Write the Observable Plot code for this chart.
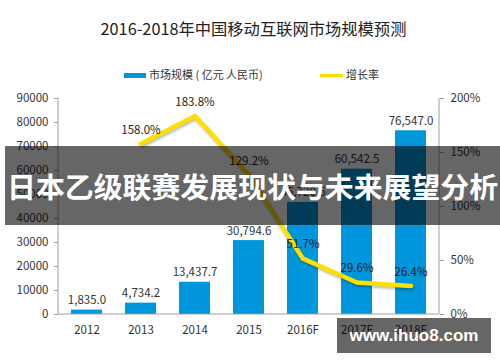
<!DOCTYPE html>
<html><head><meta charset="utf-8">
<script src="https://cdn.jsdelivr.net/npm/d3@7"></script>
<script src="https://cdn.jsdelivr.net/npm/@observablehq/plot@0.6"></script>
<style>
html,body{margin:0;padding:0;background:#fff;}
#wrap{position:relative;width:500px;height:362px;overflow:hidden;font-family:"Noto Sans CJK SC",sans-serif;}
#chart{position:absolute;left:0;top:0;}
#title{position:absolute;left:0;width:507px;top:17px;text-align:center;font-size:16.3px;color:#222;line-height:22px;white-space:nowrap;}
.leg{position:absolute;top:66px;font-size:11px;color:#333;line-height:16px;white-space:nowrap;}
.sw{display:inline-block;vertical-align:middle;margin-right:3px;position:relative;top:-1px;}
#banner{position:absolute;left:5px;top:146px;width:495px;height:79px;background:rgba(0,0,0,0.6);display:flex;align-items:center;}
#btext{margin-left:2px;font-size:28.9px;font-weight:bold;color:#fff;white-space:nowrap;line-height:1;}
#wm{position:absolute;left:337px;top:318px;width:154px;height:35px;background:rgba(0,0,0,0.6);color:#fff;font-family:"Liberation Sans",Arial,sans-serif;font-weight:bold;font-size:17px;display:flex;align-items:center;justify-content:center;}
g[stroke="#ffdf00"]{filter:drop-shadow(1px 2px 1px rgba(0,0,0,0.25));}
</style>
</head><body>
<div id="wrap">
  <div id="chart"></div>
  <div id="title">2016-2018年中国移动互联网市场规模预测</div>
  <div class="leg" style="left:124px"><span class="sw" style="width:22px;height:5px;background:#0096db"></span>市场规模 ( 亿元 人民币)</div>
  <div class="leg" style="left:320px"><span class="sw" style="width:23px;height:3px;background:#ffdf00"></span>增长率</div>
  <div id="banner"><span id="btext">日本乙级联赛发展现状与未来展望分析</span></div>
  <div id="wm">www.ihuo8.com</div>
</div>
<script>
const years = ["2012","2013","2014","2015","2016F","2017F","2018F"];
const marketSize = [1835.0, 4734.2, 13437.7, 30794.6, 46720.6, 60542.5, 76547.0];
const growthYears = ["2013","2014","2015","2016F","2017F","2018F"];
const growthRate = [158.0, 183.8, 129.2, 51.7, 29.6, 26.4];
const leftTicks = [0,10000,20000,30000,40000,50000,60000,70000,80000,90000];
const rightTicks = [0,50,100,150,200];

const leftMax = 90000, rightMax = 200;
const factor = leftMax / rightMax;
const bars = years.map((y,i)=>({year:y, value:marketSize[i]}));
const growth = growthYears.map((y,i)=>({year:y, rate:growthRate[i]}));
const fmt = d3.format(",.1f");

const axisLines = (index, scales, values, dims) => {
  const g = d3.create("svg:g").attr("stroke","#a0a0a0").attr("stroke-width",1);
  const yb = scales.y(0), yt = scales.y(leftMax);
  const xl = dims.marginLeft, xr = dims.width - dims.marginRight;
  g.append("line").attr("x1",xl).attr("x2",xl).attr("y1",yb).attr("y2",yt);
  g.append("line").attr("x1",xr).attr("x2",xr).attr("y1",yb).attr("y2",yt);
  g.append("line").attr("x1",xl).attr("x2",xr).attr("y1",yb).attr("y2",yb);
  return g.node();
};

const plot = Plot.plot({
  width:500, height:362,
  marginLeft:58, marginRight:61, marginTop:98, marginBottom:48,
  style:{fontFamily:'"Noto Sans CJK SC", sans-serif', fontSize:"11.5px", color:"#333", background:"transparent"},
  x:{domain:years, paddingInner:0.43, paddingOuter:0.215, label:null},
  y:{domain:[0,leftMax], label:null},
  marks:[
    Plot.barY(bars,{x:"year", y:"value", fill:"#0096db"}),
    Plot.text(bars,{x:"year", y:"value", text:d=>fmt(d.value), lineAnchor:"bottom", dy:-6, fill:"#333", fontSize:11.5}),
    axisLines,
    Plot.axisY({ticks:leftTicks, tickSize:4, tickPadding:6, tickFormat:d=>String(d), label:null, stroke:"#a0a0a0", fill:"#333"}),
    Plot.axisY({anchor:"right", ticks:rightTicks.map(t=>t*factor), tickFormat:d=>Math.round(d/factor)+"%", tickSize:4, tickPadding:7, label:null, stroke:"#a0a0a0", fill:"#333"}),
    Plot.axisX({tickSize:0, tickPadding:11, label:null, fill:"#333"}),
    Plot.line(growth,{x:"year", y:d=>d.rate*factor, stroke:"#ffdf00", strokeWidth:4.5}),
    Plot.text(growth,{x:"year", y:d=>d.rate*factor, text:d=>d.rate.toFixed(1)+"%", dy:-14, fill:"#222", fontSize:11.5})
  ]
});
document.getElementById("chart").appendChild(plot);
</script>
</body></html>
